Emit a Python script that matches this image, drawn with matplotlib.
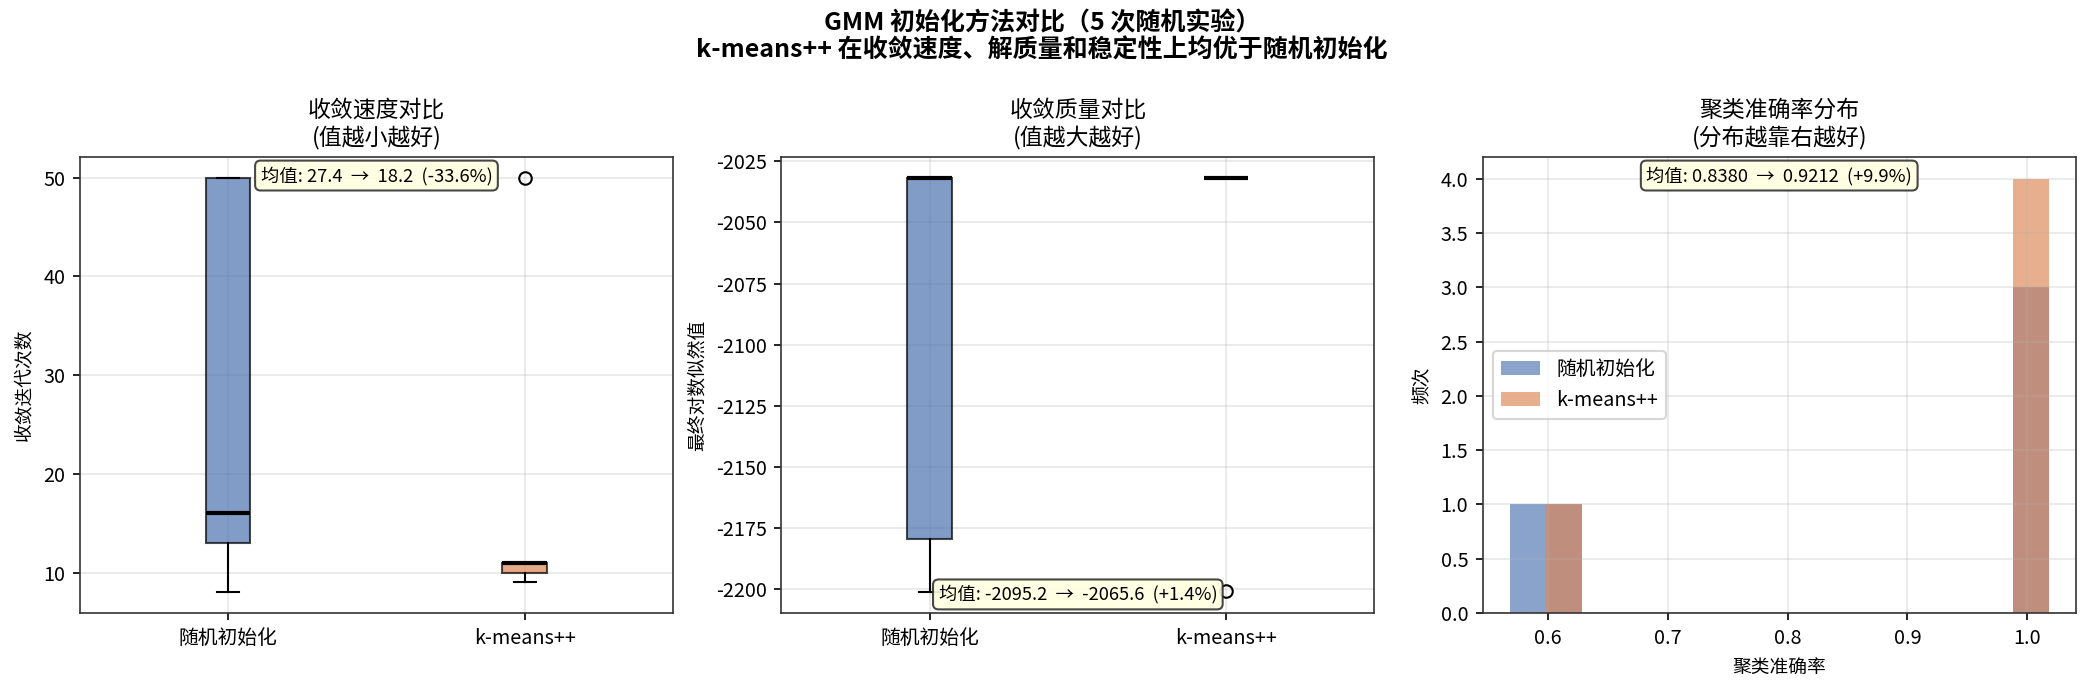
import numpy as np
import matplotlib
matplotlib.use('Agg')
import matplotlib.pyplot as plt

plt.rcParams['font.family'] = ['Noto Sans CJK SC', 'DejaVu Sans']
plt.rcParams['axes.unicode_minus'] = False
plt.rcParams['axes.edgecolor'] = '#333333'

# 5 次实验结果
methods = ['随机初始化', 'k-means++']
iters_random = [8, 13, 16, 50, 50]
iters_kpp = [9, 10, 11, 11, 50]
ll_random = [-2201.3, -2179.4, -2031.8, -2031.8, -2031.7]
ll_kpp = [-2031.8, -2031.8, -2031.8, -2031.8, -2200.8]
acc_random = [0.58, 0.61, 1.0, 1.0, 1.0]
acc_kpp = [0.606, 1.0, 1.0, 1.0, 1.0]

colors = ['#4C72B0', '#DD8452']


def mean_box(ax, a, b, fmt, y, va):
    ma, mb = np.mean(a), np.mean(b)
    pct = (mb - ma) / abs(ma) * 100
    txt = f'均值: {ma:{fmt}}  →  {mb:{fmt}}  ({pct:+.1f}%)'
    ax.text(0.5, y, txt, transform=ax.transAxes, ha='center', va=va,
            fontsize=8.8, zorder=10,
            bbox=dict(boxstyle='round,pad=0.3', facecolor='lightyellow',
                      edgecolor='#333333', alpha=0.9))


def draw_box(ax, a, b):
    bp = ax.boxplot([a, b], widths=0.15, patch_artist=True,
                    medianprops=dict(color='black', linewidth=2))
    for patch, c in zip(bp['boxes'], colors):
        patch.set_facecolor(c)
        patch.set_alpha(0.7)
    ax.set_xticks([1, 2])
    ax.set_xticklabels(methods)
    ax.grid(True, alpha=0.3)


fig, axes = plt.subplots(1, 3, figsize=(2084 / 150, 690 / 150), dpi=150)

ax = axes[0]
draw_box(ax, iters_random, iters_kpp)
ax.set_title('收敛速度对比\n(值越小越好)', fontsize=11)
ax.set_ylabel('收敛迭代次数', fontsize=9)
mean_box(ax, iters_random, iters_kpp, '.1f', 0.98, 'top')

ax = axes[1]
draw_box(ax, ll_random, ll_kpp)
ax.set_title('收敛质量对比\n(值越大越好)', fontsize=11)
ax.set_ylabel('最终对数似然值', fontsize=9)
mean_box(ax, ll_random, ll_kpp, '.1f', 0.02, 'bottom')

ax = axes[2]
bins = np.arange(0.568, 1.02, 0.03)
ax.hist(acc_random, bins=bins, color=colors[0], alpha=0.65, label=methods[0])
ax.hist(acc_kpp, bins=bins, color=colors[1], alpha=0.65, label=methods[1])
ax.set_title('聚类准确率分布\n(分布越靠右越好)', fontsize=11)
ax.set_xlabel('聚类准确率', fontsize=9)
ax.set_ylabel('频次', fontsize=9)
ax.legend(loc='center left', fontsize=9.5)
ax.grid(True, alpha=0.3)
mean_box(ax, acc_random, acc_kpp, '.4f', 0.98, 'top')

for ax in axes:
    ax.tick_params(labelsize=9.5)

fig.suptitle('GMM 初始化方法对比（5 次随机实验）\n'
             'k-means++ 在收敛速度、解质量和稳定性上均优于随机初始化',
             fontsize=12, fontweight='bold', y=0.985)
fig.subplots_adjust(left=0.0384, right=0.996, bottom=0.1116, top=0.7725,
                    wspace=0.183)
fig.savefig('out.png', dpi=150)
